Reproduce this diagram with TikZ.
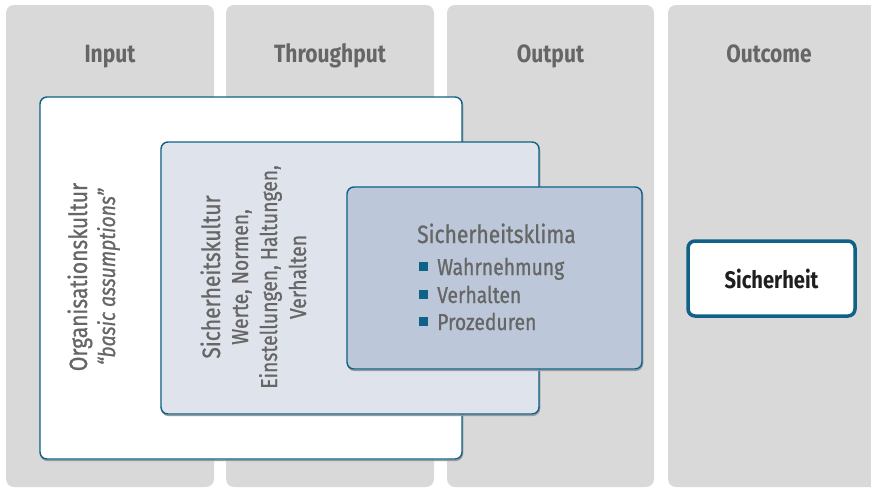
\documentclass[tikz,border=0pt]{standalone}
\usepackage{fontspec}
\setmainfont[FakeStretch=0.84,
  UprightFeatures={FakeBold=0.9},
  ItalicFeatures={FakeBold=0.9}]{Fira Sans}
\definecolor{colfill}{HTML}{D9D9D9}
\definecolor{frame}{HTML}{0F6187}
\definecolor{txtgray}{HTML}{666666}
\definecolor{kulturfill}{HTML}{DFE3EC}
\definecolor{klimafill}{HTML}{BCC8D9}
\definecolor{shade}{HTML}{9A9A9A}
\begin{document}
\begin{tikzpicture}[x=1pt,y=-1pt,
  column/.style={fill=colfill, rounded corners=8pt, minimum height=482pt, inner sep=0pt},
  header/.style={anchor=base, text=txtgray, font=\fontsize{25}{29}\selectfont\bfseries},
  layer/.style={draw=frame, line width=1.4pt, rounded corners=7pt, inner sep=0pt,
    preaction={draw=shade, line width=1.4pt, transform canvas={shift={(0.6pt,-1.4pt)}}}},
  vtitle/.style={rotate=90, anchor=base, text=txtgray, font=\fontsize{25}{29}\selectfont},
  vsub/.style={rotate=90, anchor=base, text=txtgray, font=\fontsize{23}{29}\selectfont},
  item/.style={anchor=base west, text=txtgray, inner sep=0pt, font=\fontsize{23}{28}\selectfont},
  bullet/.style={fill=frame, minimum size=9pt, inner sep=0pt},
  outbox/.style={draw=frame, line width=3.5pt, fill=white, rounded corners=7pt,
    minimum width=167pt, minimum height=75pt, inner sep=0pt,
    font=\fontsize{24}{28}\selectfont\bfseries, text=black!88}]
\useasboundingbox (0,0) rectangle (871,488);
\clip (0,0) rectangle (871,488);

% the four process columns
\node[column, minimum width=208pt] (colin)  at (110,246) {};
\node[column, minimum width=208pt] (colthr) at (330,246) {};
\node[column, minimum width=207pt] (colout) at (550.5,246) {};
\node[column, minimum width=230pt] (colres) at (783,246) {};

\node[header] (hin)  at (110,62) {Input};
\node[header] (hthr) at (330,62) {Throughput};
\node[header] (hout) at (550.5,62) {Output};
\node[header] (hres) at (769,62) {Outcome};

% nested culture layers
\node[layer, fill=white, minimum width=422pt, minimum height=362pt] (org) at (251,278) {};
\node[layer, fill=kulturfill, minimum width=378pt, minimum height=272pt] (kultur) at (350,278) {};
\node[layer, fill=klimafill, minimum width=295pt, minimum height=182pt] (klima) at (494.5,278) {};

% Organisationskultur
\node[vtitle] (orgt) at (87,277) {Organisationskultur};
\node[vsub]   (orgs) at (115,277) {\itshape “basic assumptions”};

% Sicherheitskultur
\node[vtitle] (kult)  at (220,277) {Sicherheitskultur};
\node[vsub]   (kuls1) at (248,277) {Werte, Normen,};
\node[vsub]   (kuls2) at (277,277) {Einstellungen, Haltungen,};
\node[vsub]   (kuls3) at (306,277) {Verhalten};

% Sicherheitsklima
\node[item, font=\fontsize{25}{29}\selectfont] (klit) at (417,243) {Sicherheitsklima};
\node[bullet] (b1) at (423.5,266.5) {};
\node[item]   (k1) at (437,275) {Wahrnehmung};
\node[bullet] (b2) at (423.5,294.5) {};
\node[item]   (k2) at (437,303) {Verhalten};
\node[bullet] (b3) at (423.5,321.5) {};
\node[item]   (k3) at (437,330) {Prozeduren};

% outcome
\node[outbox] (sich) at (771.5,278.5) {Sicherheit};
\end{tikzpicture}
\end{document}
